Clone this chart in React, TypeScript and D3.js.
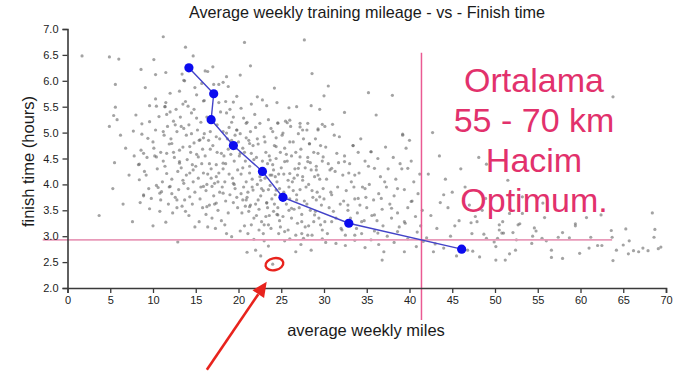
import * as d3 from "d3";
import { useEffect, useRef } from "react";

// runners: [average weekly miles, finish time in hours]
const upperRunners: [number, number][] = [
  [1.7, 6.48], [4.9, 6.46], [6.0, 6.42], [11.2, 6.85], [13.8, 6.65], [14.7, 6.48], [20.7, 6.74], [21.4, 6.29],
  [10.1, 6.41], [8.6, 6.22], [10.3, 6.12], [11.5, 6.16], [5.6, 5.93], [9.1, 5.87], [12.0, 5.76], [13.4, 6.13],
  [16.1, 6.19], [17.0, 6.27], [16.4, 6.18], [17.1, 5.93], [17.7, 5.93], [18.2, 5.97], [18.6, 6.08], [17.7, 5.58],
  [19.4, 5.59], [18.8, 5.89], [20.2, 6.11], [20.3, 5.47], [13.1, 5.8], [13.8, 5.6], [14.1, 5.51], [15.1, 5.73],
  [14.9, 5.87], [13.7, 6.0], [15.9, 5.61], [22.2, 5.69], [22.8, 5.63], [10.3, 5.65], [5.6, 5.49], [9.6, 5.52],
  [11.4, 5.5], [27.7, 6.79], [28.6, 6.14], [30.5, 5.9], [30.0, 5.71], [24.2, 5.86], [35.2, 5.77], [38.0, 5.72],
  [28.5, 5.52], [25.9, 5.48], [63.8, 5.69], [13.6, 6.01], [15.7, 5.95], [10.4, 5.51], [12.0, 5.4], [13.5, 5.55],
  [16.0, 5.62], [18.5, 5.6], [21.5, 5.55], [24.5, 5.58], [26.8, 5.5], [11.5, 5.58], [19.8, 5.7], [23.3, 5.52],
  [29.5, 5.45], [5.4, 5.33], [8.0, 5.34], [7.7, 5.03], [9.6, 5.21], [8.7, 5.17],
];

const coreRunners: [number, number][] = [
  // 3 - 12 miles
  [3.7, 3.4], [5.3, 3.92], [7.6, 3.28], [5.5, 4.42], [6.8, 4.7], [6.2, 4.95], [4.9, 5.12], [7.2, 4.18],
  [6.5, 3.62], [7.8, 4.55], [5.8, 5.25], [8.9, 3.8], [8.3, 4.38],
  [8.4, 4.39], [8.4, 4.09], [8.9, 3.78], [9.2, 4.18], [9.6, 3.53], [10.0, 3.2], [9.8, 3.73], [10.6, 3.94],
  [10.4, 3.98], [8.6, 4.66], [9.4, 4.89], [10.0, 4.82], [8.7, 4.97], [10.3, 5.05], [10.9, 4.62], [11.2, 4.45],
  [10.5, 4.3], [11.6, 4.21], [9.3, 4.52], [11.0, 3.86], [11.5, 3.27], [11.8, 3.62], [10.8, 3.48], [9.0, 4.25],
  [11.3, 4.95], [11.7, 5.12], [10.7, 5.31], [11.9, 4.78], [8.9, 4.6], [10.2, 4.55], [11.1, 4.05], [9.5, 3.92],
  [11.6, 5.35], [8.5, 3.65], [10.9, 3.7], [11.4, 4.35], [10.1, 4.7], [11.9, 3.95],
  // 12 - 16 miles
  [12.2, 4.1], [12.5, 4.52], [12.1, 4.88], [12.4, 5.22], [12.8, 5.02], [13.1, 4.66], [13.3, 4.32], [13.6, 4.02],
  [13.8, 3.48], [12.6, 3.75], [12.3, 3.45], [13.0, 3.9], [13.5, 4.72], [13.9, 4.95], [14.2, 5.15], [14.5, 5.38],
  [14.8, 4.8], [15.1, 4.58], [15.4, 3.28], [14.6, 3.62], [14.9, 3.85], [15.3, 4.12], [15.7, 4.4], [15.9, 4.9],
  [14.0, 4.48], [14.3, 4.22], [13.2, 5.3], [12.7, 5.45], [15.6, 5.2], [15.2, 5.05], [14.7, 4.05], [13.7, 3.7],
  [15.8, 3.55], [12.9, 4.25], [13.4, 3.58], [14.1, 3.92], [15.5, 3.72], [15.0, 4.35], [14.4, 4.62], [13.6, 5.08],
  [12.4, 4.62], [15.8, 4.68], [14.8, 5.45], [13.9, 4.18], [15.4, 4.85], [12.2, 3.82], [14.2, 3.4], [15.6, 3.95],
  [13.1, 4.44], [14.5, 4.98], [15.1, 5.28], [12.8, 3.55], [14.9, 3.18], [15.9, 4.22], [13.3, 5.12], [14.6, 4.38],
  // 16 - 20 miles
  [16.1, 4.55], [16.4, 4.2], [16.2, 3.88], [16.6, 3.6], [16.9, 3.35], [17.2, 4.02], [17.4, 4.38], [17.0, 4.75],
  [16.7, 5.02], [16.3, 5.3], [17.5, 5.15], [17.8, 4.88], [18.0, 4.6], [18.2, 4.3], [18.4, 3.22], [18.1, 3.95],
  [18.5, 3.68], [18.8, 3.45], [19.0, 3.8], [19.3, 4.12], [19.5, 4.45], [19.7, 4.7], [19.8, 5.05], [19.4, 5.3],
  [18.6, 5.38], [18.9, 5.1], [17.6, 3.5], [17.1, 3.78], [16.5, 4.85], [16.8, 4.12], [17.7, 4.22], [18.3, 4.55],
  [18.7, 4.88], [19.1, 4.58], [19.9, 4.28], [19.6, 3.92], [19.9, 3.55], [18.0, 3.3], [17.3, 3.15], [16.2, 3.42],
  [16.0, 4.98], [17.9, 5.4], [19.2, 5.2], [16.6, 4.4], [17.5, 4.62], [18.4, 4.05], [19.4, 3.65], [16.9, 3.96],
  [17.8, 3.85], [18.9, 4.2], [19.6, 4.95], [16.4, 3.18], [18.6, 3.05], [17.0, 5.22], [19.0, 5.45], [16.7, 4.68],
  [17.4, 4.92], [18.2, 5.02], [19.8, 3.75], [16.3, 4.0], [18.8, 4.68], [17.2, 3.62], [19.5, 4.0], [18.5, 4.4],
  [16.8, 4.3], [17.6, 4.05], [19.2, 4.85],
  // 20 - 25 miles
  [20.2, 4.98], [20.5, 4.7], [20.8, 4.45], [20.3, 4.2], [20.6, 3.95], [20.9, 3.7], [20.4, 3.45], [20.7, 3.2],
  [21.0, 5.2], [21.2, 4.85], [21.5, 4.6], [21.3, 4.35], [21.6, 4.1], [21.1, 3.85], [21.4, 3.6], [21.8, 3.35],
  [22.0, 5.1], [22.3, 4.78], [22.1, 4.52], [22.5, 4.25], [22.2, 4.0], [22.6, 3.78], [22.4, 3.52], [22.7, 3.28],
  [22.9, 3.05], [23.0, 4.92], [23.2, 4.62], [23.4, 4.4], [23.1, 4.12], [23.5, 3.9], [23.3, 3.65], [23.6, 3.4],
  [23.8, 3.15], [24.0, 5.02], [24.2, 4.75], [24.4, 4.5], [24.1, 4.28], [24.5, 4.05], [24.3, 3.8], [24.6, 3.55],
  [24.8, 3.3], [24.7, 3.05], [20.1, 4.55], [20.9, 4.05], [21.7, 4.75], [22.8, 4.45], [23.7, 4.18], [24.9, 4.62],
  [20.6, 5.28], [21.9, 5.35], [23.5, 5.25], [24.6, 5.18], [20.3, 3.82], [21.2, 3.48], [22.0, 3.62], [22.9, 3.88],
  [23.9, 3.72], [24.8, 3.92], [20.8, 3.58], [21.5, 3.22], [22.4, 3.12], [23.2, 3.38], [24.1, 3.48], [24.9, 3.18],
  [20.5, 4.32], [21.3, 4.22], [22.6, 4.08], [23.6, 4.55], [24.4, 4.9], [20.0, 4.82], [21.8, 4.48], [22.2, 4.88],
  [23.1, 4.82], [24.0, 4.38], [20.7, 4.62], [21.6, 3.95], [22.7, 3.92], [23.4, 3.55], [24.2, 3.62], [20.2, 3.1],
  [21.1, 3.05], [22.1, 3.4], [23.0, 3.22], [24.5, 3.42], [20.9, 4.9], [22.5, 5.18], [23.8, 5.08], [21.4, 5.02],
  [24.7, 4.2], [22.3, 3.7], [23.7, 3.98], [21.0, 3.75], [24.3, 4.15],
  // 25 - 30 miles
  [25.1, 4.95], [25.4, 4.7], [25.7, 4.45], [25.3, 4.2], [25.9, 3.95], [25.6, 3.62], [25.2, 3.38], [25.8, 3.12],
  [26.1, 5.12], [26.4, 4.82], [26.2, 4.55], [26.6, 4.3], [26.3, 4.05], [26.8, 3.8], [26.5, 3.52], [26.9, 3.25],
  [26.7, 3.02], [27.0, 4.98], [27.3, 4.68], [27.1, 4.4], [27.5, 4.15], [27.2, 3.9], [27.7, 3.68], [27.4, 3.42],
  [27.8, 3.18], [28.0, 5.05], [28.3, 4.78], [28.1, 4.52], [28.5, 4.28], [28.2, 4.0], [28.7, 3.75], [28.4, 3.5],
  [28.8, 3.28], [28.6, 3.02], [29.0, 4.88], [29.3, 4.6], [29.1, 4.35], [29.5, 4.1], [29.2, 3.85], [29.7, 3.6],
  [29.4, 3.35], [29.8, 3.12], [25.5, 5.22], [26.0, 3.72], [26.9, 4.18], [27.6, 4.88], [28.9, 4.15], [29.6, 4.75],
  [25.0, 4.32], [26.4, 3.88], [27.9, 3.95], [29.9, 3.92], [25.3, 3.85], [26.7, 4.62], [28.4, 4.42], [29.3, 5.05],
  [25.8, 4.08], [27.1, 3.55], [28.0, 3.62], [29.0, 3.48], [25.6, 4.58], [26.2, 3.35], [27.4, 3.05], [28.6, 3.88],
  [29.6, 3.22], [27.8, 4.32], [26.0, 4.82], [28.8, 4.62], [25.9, 3.5], [27.2, 5.18], [29.1, 3.7], [26.5, 4.12],
  [28.2, 3.2], [29.8, 4.45], [24.6, 5.19], [25.7, 5.19], [27.2, 5.11], [28.1, 5.18], [29.3, 5.07], [29.8, 5.16],
  // 30 - 35 miles
  [30.2, 4.72], [30.5, 4.4], [30.3, 4.1], [30.8, 3.85], [30.6, 3.55], [30.9, 3.28], [30.4, 3.05], [31.2, 4.95],
  [31.5, 4.6], [31.3, 4.25], [31.8, 4.92], [31.6, 3.95], [31.9, 3.62], [31.4, 3.35], [32.1, 3.12], [32.4, 4.55],
  [32.2, 4.18], [32.6, 3.88], [32.8, 3.5], [32.5, 3.02], [33.0, 4.4], [33.4, 4.75], [33.2, 4.05], [33.6, 3.72],
  [33.1, 3.35], [33.8, 3.15], [34.0, 4.62], [34.3, 4.88], [34.1, 4.22], [34.5, 3.95], [34.2, 3.6], [34.7, 3.3],
  [34.4, 3.05], [30.1, 5.12], [31.0, 5.16], [32.4, 5.39], [30.7, 4.28], [31.7, 4.42], [32.9, 4.22], [33.5, 3.95],
  [34.8, 4.45], [30.0, 3.72], [31.1, 3.48], [32.3, 3.68], [33.9, 3.45], [34.9, 3.75],
  // 35 - 42 miles
  [35.2, 4.35], [35.5, 4.63], [35.3, 4.0], [35.8, 3.7], [35.6, 3.4], [35.9, 3.1], [36.1, 5.34], [36.3, 4.5],
  [36.6, 4.15], [36.4, 3.82], [36.8, 3.52], [36.9, 3.2], [37.2, 4.72], [37.5, 4.3], [37.3, 3.95], [37.7, 3.62],
  [37.4, 3.0], [38.1, 4.52], [38.4, 4.1], [38.2, 3.78], [38.6, 3.45], [38.8, 3.18], [39.2, 4.97], [39.6, 4.7],
  [39.1, 4.3], [39.4, 3.9], [39.8, 3.55], [39.5, 3.25], [40.2, 4.45], [40.5, 4.05], [40.3, 3.68], [40.7, 3.38],
  [40.9, 3.08], [41.2, 4.2], [41.0, 3.82], [41.5, 3.5], [35.0, 3.55], [36.2, 3.3], [37.9, 3.35], [38.9, 4.4],
  [40.0, 4.85], [41.3, 3.2], [33.4, 4.75], [35.5, 4.63], [39.2, 4.95],
];

// second pass over the densest part of the cloud
const denseRunners: [number, number][] = [
  [11.4, 5.5], [12.6, 5.15], [11.2, 5.02], [12.2, 4.79], [10.4, 4.53], [11.6, 4.6], [13.1, 4.41], [14.3, 4.73],
  [15.5, 4.86], [15.3, 4.53], [14.7, 4.28], [13.5, 4.08], [12.0, 3.96], [10.8, 3.83], [12.8, 3.7], [14.3, 3.76],
  [15.9, 3.96], [17.4, 4.15], [18.2, 4.41], [18.6, 4.99], [19.8, 5.05], [20.9, 5.18], [21.3, 4.79], [20.2, 4.6],
  [19.4, 4.02], [18.2, 3.83], [20.5, 3.7], [21.7, 3.89], [22.5, 4.15], [23.7, 4.47], [24.4, 4.73], [25.2, 4.99],
  [26.0, 5.24], [27.5, 5.05], [28.3, 4.79], [27.2, 4.53], [26.0, 4.21], [27.5, 4.08], [29.1, 4.28], [29.9, 4.53],
  [24.4, 3.89], [26.8, 3.7], [23.3, 3.64], [29.5, 3.76], [21.3, 3.57], [17.4, 3.64], [16.3, 3.57],
  [23.9, 4.18], [25.4, 4.44], [27.0, 4.31], [28.1, 4.44], [29.3, 4.18], [30.9, 4.31], [32.4, 4.44], [33.6, 4.18],
  [34.8, 3.92], [35.9, 4.31], [37.1, 4.05], [38.6, 3.92], [39.8, 4.31], [40.2, 3.67], [37.9, 3.54], [35.9, 3.41],
  [34.4, 3.28], [32.0, 3.15], [30.1, 3.28], [28.9, 3.41], [27.4, 3.28], [26.2, 3.54], [24.6, 3.41], [23.5, 3.22],
  [25.4, 3.09], [28.1, 3.02], [30.9, 3.8], [32.8, 3.6], [34.0, 3.73], [36.7, 3.73], [39.4, 3.28], [38.6, 3.09],
  [36.3, 3.06], [33.6, 3.02],
];

const lowRunners: [number, number][] = [
  [12.9, 2.89], [19.2, 2.99], [21.8, 2.94], [21.0, 2.69], [22.0, 2.73], [23.0, 2.91], [23.5, 2.81], [24.0, 2.46],
  [26.7, 2.7], [27.3, 2.84], [28.5, 2.73], [31.4, 2.86], [32.5, 2.82], [33.6, 2.92], [36.4, 2.84], [36.8, 2.54],
  [37.0, 2.7], [39.4, 2.7], [40.8, 2.8], [38.2, 2.88], [25.4, 2.91], [26.0, 2.95], [29.8, 2.95], [34.8, 2.78],
  [35.5, 2.93], [30.2, 2.88], [22.6, 2.62], [27.6, 2.96], [41.6, 2.9], [39.8, 2.95],
];

const tailRunners: [number, number][] = [
  [42.7, 5.0], [43.5, 4.55], [44.2, 4.1], [45.0, 3.85], [42.5, 3.4], [43.2, 3.15], [44.5, 3.55], [45.8, 3.3],
  [46.5, 3.95], [47.0, 3.6], [48.1, 4.52], [49.0, 4.39], [51.5, 4.08], [48.9, 3.73], [55.6, 3.64], [60.7, 3.36],
  [68.4, 3.45], [68.7, 3.13], [68.6, 2.98], [69.1, 2.76], [69.4, 2.79], [65.3, 3.14], [65.7, 2.91], [65.0, 2.83],
  [64.2, 2.73], [63.8, 2.53], [63.6, 3.11], [63.7, 2.98], [66.2, 2.72], [66.8, 2.7], [67.3, 2.77], [67.9, 2.72],
  [65.6, 2.66], [62.4, 3.41], [62.0, 2.82], [62.5, 2.82], [61.2, 2.98], [61.0, 2.77], [59.9, 2.67], [59.4, 3.24],
  [59.4, 3.2], [58.7, 2.97], [57.9, 3.07], [57.9, 2.57], [57.4, 2.98], [56.6, 2.73], [56.6, 2.59], [56.0, 2.91],
  [55.8, 3.36], [55.5, 2.96], [54.6, 3.16], [54.8, 3.1], [54.4, 3.0], [54.3, 2.86], [53.2, 3.44], [52.9, 3.24],
  [52.7, 3.22], [52.1, 3.07], [52.5, 2.93], [52.4, 2.73], [51.7, 2.66], [51.2, 2.54], [50.1, 2.54], [51.7, 3.44],
  [51.0, 3.06], [50.8, 3.06], [50.5, 3.12], [50.3, 2.96], [50.1, 2.8], [49.9, 2.89], [50.9, 3.28], [50.5, 3.22],
  [48.7, 3.04], [47.9, 3.28], [47.7, 3.38], [47.4, 2.71], [46.8, 2.73], [46.2, 2.7], [48.2, 2.6], [49.0, 2.96],
  [53.2, 3.76], [44.0, 2.77], [42.0, 2.97], [43.0, 2.85], [44.8, 3.0], [45.5, 2.62], [43.6, 3.65], [42.2, 4.2],
  [46.0, 4.3], [44.0, 3.8], [42.8, 2.7], [45.3, 3.2], [47.3, 3.05], [48.5, 3.5], [47.2, 3.26],
];

// binned averages (blue line)
const binMiles = [14.2, 17.1, 16.8, 19.4, 22.8, 25.2, 32.9, 46.1];
const binHours = [6.25, 5.75, 5.25, 4.75, 4.25, 3.75, 3.25, 2.75];

const xTicks = [0, 5, 10, 15, 20, 25, 30, 35, 40, 45, 50, 55, 60, 65, 70];
const yTicks = [2.0, 2.5, 3.0, 3.5, 4.0, 4.5, 5.0, 5.5, 6.0, 6.5, 7.0];

// pink reference lines and annotation, in data units
const refHours = 2.93;
const refHoursSpan = [-2.9, 63.7];
const refMiles = 41.4;
const refMilesSpan = [6.54, 1.38];
const noteLines = ["Ortalama", "55 - 70 km", "Hacim", "Optimum."];
const circled: [number, number] = [24.2, 2.46];
const arrowFrom: [number, number] = [16.3, 0.42];
const arrowTo: [number, number] = [23.3, 2.12];

const W = 690;
const H = 371;
const margin = { top: 29, right: 24, bottom: 83, left: 67.5 };
const font = "'Liberation Sans', Arial, Helvetica, sans-serif";

export default function App() {
  const xAxisRef = useRef<SVGGElement>(null);
  const yAxisRef = useRef<SVGGElement>(null);

  const x = d3.scaleLinear().domain([0, 70]).range([margin.left, W - margin.right]);
  const y = d3.scaleLinear().domain([2, 7]).range([H - margin.bottom, margin.top]);

  useEffect(() => {
    const style = (g: d3.Selection<SVGGElement, unknown, null, undefined>) => {
      g.select(".domain").attr("stroke", "#3a3a3a").attr("stroke-width", 1.6);
      g.selectAll(".tick line").attr("stroke", "#3a3a3a").attr("stroke-width", 1.3);
      g.selectAll(".tick text").attr("fill", "#222").attr("font-size", 11).attr("font-family", font);
    };
    if (xAxisRef.current) {
      const g = d3.select(xAxisRef.current);
      g.call(d3.axisBottom(x).tickValues(xTicks).tickFormat(d3.format("d")).tickSize(5).tickPadding(3));
      style(g);
    }
    if (yAxisRef.current) {
      const g = d3.select(yAxisRef.current);
      g.call(d3.axisLeft(y).tickValues(yTicks).tickFormat(d3.format(".1f")).tickSize(5).tickPadding(4));
      style(g);
    }
  }, []);

  const runners = [...upperRunners, ...coreRunners, ...denseRunners, ...lowRunners, ...tailRunners];
  const bins = binMiles.map((m, i) => [m, binHours[i]] as [number, number]);
  const line = d3
    .line<[number, number]>()
    .x((d) => x(d[0]))
    .y((d) => y(d[1]));

  // arrow head
  const tx = x(arrowTo[0]);
  const ty = y(arrowTo[1]);
  const fx = x(arrowFrom[0]);
  const fy = y(arrowFrom[1]);
  const ang = Math.atan2(ty - fy, tx - fx);
  const headLen = 15;
  const headW = 7;
  const bx = tx - headLen * Math.cos(ang);
  const by = ty - headLen * Math.sin(ang);
  const head = [
    [tx, ty],
    [bx + headW * Math.sin(ang), by - headW * Math.cos(ang)],
    [bx - headW * Math.sin(ang), by + headW * Math.cos(ang)],
  ];

  const noteX = 534;
  const noteY0 = 92;

  return (
    <>
      <style>{"body{margin:0;background:#fff}"}</style>
      <svg width={W} height={H} style={{ display: "block", background: "#fff" }} fontFamily={font}>
        <text x={367} y={18} textAnchor="middle" fontSize={16.2} fill="#1a1a1a">
          Average weekly training mileage - vs - Finish time
        </text>

        {/* runners */}
        <g fill="#666" fillOpacity={0.6}>
          {runners.map((d, i) => (
            <circle key={i} cx={x(d[0])} cy={y(d[1])} r={1.6} />
          ))}
        </g>

        {/* pink reference lines */}
        <line
          x1={x(refHoursSpan[0])}
          x2={x(refHoursSpan[1])}
          y1={y(refHours)}
          y2={y(refHours)}
          stroke="#e89ab9"
          strokeWidth={1.8}
        />
        <line
          x1={x(refMiles)}
          x2={x(refMiles)}
          y1={y(refMilesSpan[0])}
          y2={y(refMilesSpan[1])}
          stroke="#ea5a93"
          strokeWidth={1.5}
        />

        <g ref={xAxisRef} transform={`translate(0,${H - margin.bottom})`} />
        <g ref={yAxisRef} transform={`translate(${margin.left},0)`} />

        {/* binned average line */}
        <path d={line(bins) ?? ""} fill="none" stroke="#4343c8" strokeWidth={1.4} />
        {bins.map((d, i) => (
          <circle key={i} cx={x(d[0])} cy={y(d[1])} r={4.6} fill="#0b0bef" />
        ))}

        <text x={366} y={336} textAnchor="middle" fontSize={16.5} fill="#1a1a1a">
          average weekly miles
        </text>
        <text
          transform={`translate(34,${(margin.top + H - margin.bottom) / 2 + 3}) rotate(-90)`}
          textAnchor="middle"
          fontSize={16.5}
          fill="#1a1a1a"
        >
          finish time (hours)
        </text>

        {/* annotation */}
        <g fill="#e2316c" fontSize={34} textAnchor="middle">
          {noteLines.map((t, i) => (
            <text key={i} x={noteX} y={noteY0 + i * 40}>
              {t}
            </text>
          ))}
        </g>

        <ellipse
          cx={x(circled[0])}
          cy={y(circled[1])}
          rx={9}
          ry={6}
          transform={`rotate(-12 ${x(circled[0])} ${y(circled[1])})`}
          fill="none"
          stroke="#e8231d"
          strokeWidth={2.4}
        />
        <line x1={fx} y1={fy} x2={bx} y2={by} stroke="#e8231d" strokeWidth={2.6} />
        <polygon points={head.map((p) => p.join(",")).join(" ")} fill="#e8231d" />
      </svg>
    </>
  );
}
